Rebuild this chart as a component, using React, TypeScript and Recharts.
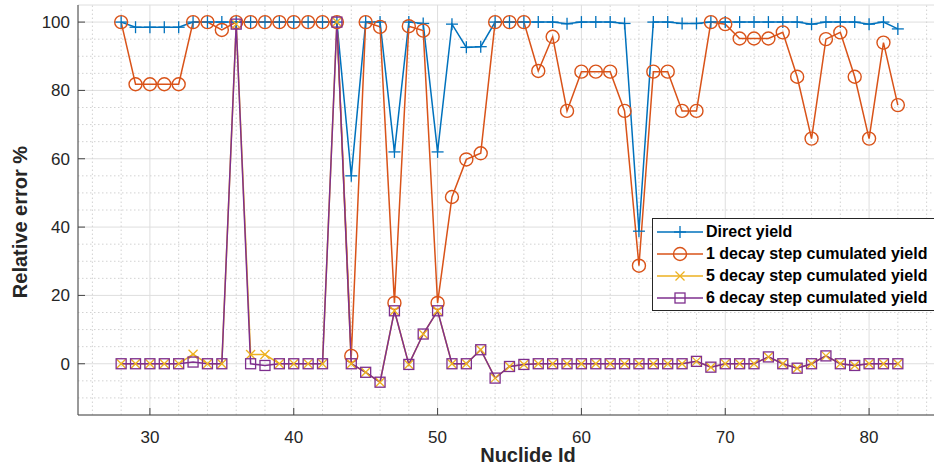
import { LineChart, Line, XAxis, YAxis, CartesianGrid, ReferenceLine, Legend, Label } from "recharts";

const nuclideIds = [
  28, 29, 30, 31, 32, 33, 34, 35, 36, 37, 38, 39, 40, 41, 42, 43, 44, 45, 46, 47, 48, 49, 50, 51, 52, 53, 54, 55,
  56, 57, 58, 59, 60, 61, 62, 63, 64, 65, 66, 67, 68, 69, 70, 71, 72, 73, 74, 75, 76, 77, 78, 79, 80, 81, 82,
];
const directYield = [
  100, 98.5, 98.5, 98.5, 98.5, 100, 100, 100, 100, 100, 100, 100, 100, 100, 100, 100, 55, 100, 100, 62, 100, 99.6, 62, 99.4, 92.6, 92.8, 100, 100,
  100, 100, 100, 99.5, 100, 100, 100, 99.6, 38.8, 100, 100, 99.6, 99.6, 100, 100, 100, 100, 100, 100, 100, 99.4, 100, 100, 100, 99.4, 100, 98,
];
const oneStepYield = [
  100, 81.8, 81.8, 81.8, 81.8, 100, 100, 97.7, 100, 100, 100, 100, 100, 100, 100, 100, 2.3, 100, 98.6, 17.8, 98.8, 97.5, 17.8, 48.8, 59.8, 61.6, 100, 100,
  100, 85.7, 95.7, 74, 85.5, 85.5, 85.5, 74, 28.7, 85.5, 85.5, 74, 74, 100, 99.4, 95.2, 95.2, 95.2, 97, 84, 65.9, 95, 97, 84, 65.9, 94, 75.7,
];
const fiveStepYield = [
  0, 0, 0, 0, 0, 2.8, 0, 0, 99.4, 2.7, 2.7, 0, 0, 0, 0, 100, 0, -2.5, -5.4, 15.5, -0.2, 8.7, 15.5, 0, 0, 4.1, -4.2, -0.8,
  -0.2, 0, 0, 0, 0, 0, 0, 0, 0, 0, 0, 0, 0.7, -1, 0, 0, 0, 2, 0, -1.3, 0, 2.3, 0, -0.5, 0, 0, 0,
];
const sixStepYield = [
  0, 0, 0, 0, 0, 0.5, 0, 0, 99.4, 0, -0.5, 0, 0, 0, 0, 100, 0, -2.5, -5.4, 15.5, -0.2, 8.7, 15.5, 0, 0, 4.1, -4.2, -0.8,
  -0.2, 0, 0, 0, 0, 0, 0, 0, 0, 0, 0, 0, 0.7, -1, 0, 0, 0, 2, 0, -1.3, 0, 2.3, 0, -0.5, 0, 0, 0,
];

const xTicks = [30, 40, 50, 60, 70, 80];
const yTicks = [0, 20, 40, 60, 80, 100];
const xMinorTicks = [26, 28, 32, 34, 36, 38, 42, 44, 46, 48, 52, 54, 56, 58, 62, 64, 66, 68, 72, 74, 76, 78, 82, 84];
const yMinorTicks = [-10, -5, 5, 10, 15, 25, 30, 35, 45, 50, 55, 65, 70, 75, 85, 90, 95];

const BLUE = "#0072BD";
const ORANGE = "#D95319";
const YELLOW = "#EDB120";
const PURPLE = "#7E2F8E";
const FONT = "'Liberation Sans', Arial, Helvetica, sans-serif";
const AXIS = "#444";

const data = nuclideIds.map((id, i) => ({
  id,
  direct: directYield[i],
  one: oneStepYield[i],
  five: fiveStepYield[i],
  six: sixStepYield[i],
}));

const PlusMark = ({ cx, cy }: any) =>
  cx == null ? null : (
    <g stroke={BLUE} strokeWidth={1.3}>
      <line x1={cx - 6} y1={cy} x2={cx + 6} y2={cy} />
      <line x1={cx} y1={cy - 6} x2={cx} y2={cy + 6} />
    </g>
  );
const CircleMark = ({ cx, cy }: any) =>
  cx == null ? null : <circle cx={cx} cy={cy} r={6.5} fill="none" stroke={ORANGE} strokeWidth={1.4} />;
const CrossMark = ({ cx, cy }: any) =>
  cx == null ? null : (
    <g stroke={YELLOW} strokeWidth={1.3}>
      <line x1={cx - 4.5} y1={cy - 4.5} x2={cx + 4.5} y2={cy + 4.5} />
      <line x1={cx - 4.5} y1={cy + 4.5} x2={cx + 4.5} y2={cy - 4.5} />
    </g>
  );
const SquareMark = ({ cx, cy }: any) =>
  cx == null ? null : <rect x={cx - 5} y={cy - 5} width={10} height={10} fill="none" stroke={PURPLE} strokeWidth={1.3} />;

const legendItems = [
  { name: "Direct yield", color: BLUE, Mark: PlusMark },
  { name: "1 decay step cumulated yield", color: ORANGE, Mark: CircleMark },
  { name: "5 decay step cumulated yield", color: YELLOW, Mark: CrossMark },
  { name: "6 decay step cumulated yield", color: PURPLE, Mark: SquareMark },
];

function LegendBox() {
  return (
    <div
      style={{
        border: "1px solid #262626",
        background: "#fff",
        padding: "2px 8px 1px 4px",
        fontFamily: FONT,
        fontWeight: "bold",
        fontSize: 16,
        color: "#000",
        whiteSpace: "nowrap",
      }}
    >
      {legendItems.map(({ name, color, Mark }) => (
        <div key={name} style={{ display: "flex", alignItems: "center", height: 22 }}>
          <svg width={46} height={22}>
            <line x1={0} y1={11} x2={46} y2={11} stroke={color} strokeWidth={1.5} />
            <Mark cx={23} cy={11} />
          </svg>
          <span style={{ marginLeft: 3 }}>{name}</span>
        </div>
      ))}
    </div>
  );
}

const tickStyle = { fontSize: 17, fill: "#262626", fontFamily: FONT };

export default function App() {
  return (
    <div style={{ position: "fixed", left: 0, top: 0, width: 934, height: 466, overflow: "hidden", background: "#fff" }}>
      <LineChart width={942} height={466} data={data} margin={{ top: 5, right: 1, bottom: 0, left: 0 }}>
        {xMinorTicks.map((v) => (
          <ReferenceLine key={"x" + v} x={v} stroke="#d2d2d2" strokeDasharray="1.5 2.5" />
        ))}
        {yMinorTicks.map((v) => (
          <ReferenceLine key={"y" + v} y={v} stroke="#d2d2d2" strokeDasharray="1.5 2.5" />
        ))}
        <CartesianGrid stroke="#dedede" />
        <XAxis
          dataKey="id"
          type="number"
          domain={[25, 85]}
          ticks={xTicks}
          interval={0}
          height={51}
          tickSize={-7}
          tickMargin={23}
          tick={tickStyle}
          tickLine={{ stroke: AXIS }}
          axisLine={{ stroke: AXIS }}
        >
          <Label
            content={() => (
              <text x={528} y={462} textAnchor="middle" fontFamily={FONT} fontWeight="bold" fontSize={20} fill="#262626">
                Nuclide Id
              </text>
            )}
          />
        </XAxis>
        <XAxis
          xAxisId="top"
          orientation="top"
          type="number"
          domain={[25, 85]}
          ticks={xTicks}
          interval={0}
          height={0}
          tickSize={-7}
          tickFormatter={() => ""}
          tickLine={{ stroke: AXIS }}
          axisLine={{ stroke: AXIS }}
        />
        <YAxis
          type="number"
          domain={[-15, 105]}
          ticks={yTicks}
          interval={0}
          width={78}
          tickSize={-7}
          tickMargin={15}
          tick={tickStyle}
          tickLine={{ stroke: AXIS }}
          axisLine={{ stroke: AXIS }}
        >
          <Label
            content={() => (
              <text
                x={27}
                y={222}
                textAnchor="middle"
                transform="rotate(-90, 27, 222)"
                fontFamily={FONT}
                fontWeight="bold"
                fontSize={20}
                fill="#262626"
              >
                Relative error %
              </text>
            )}
          />
        </YAxis>
        <YAxis
          yAxisId="right"
          orientation="right"
          type="number"
          domain={[-15, 105]}
          ticks={yTicks}
          interval={0}
          width={0}
          tickSize={-7}
          tickFormatter={() => ""}
          tickLine={{ stroke: AXIS }}
          axisLine={{ stroke: AXIS }}
        />
        <Line type="linear" dataKey="direct" stroke={BLUE} strokeWidth={1.5} dot={<PlusMark />} activeDot={false} isAnimationActive={false} />
        <Line type="linear" dataKey="one" stroke={ORANGE} strokeWidth={1.5} dot={<CircleMark />} activeDot={false} isAnimationActive={false} />
        <Line type="linear" dataKey="five" stroke={YELLOW} strokeWidth={1.5} dot={<CrossMark />} activeDot={false} isAnimationActive={false} />
        <Line type="linear" dataKey="six" stroke={PURPLE} strokeWidth={1.5} dot={<SquareMark />} activeDot={false} isAnimationActive={false} />
        <Legend
          layout="vertical"
          align="center"
          verticalAlign="middle"
          content={() => <LegendBox />}
          wrapperStyle={{ left: 652, top: 218, width: "auto", height: "auto" }}
        />
      </LineChart>
    </div>
  );
}
